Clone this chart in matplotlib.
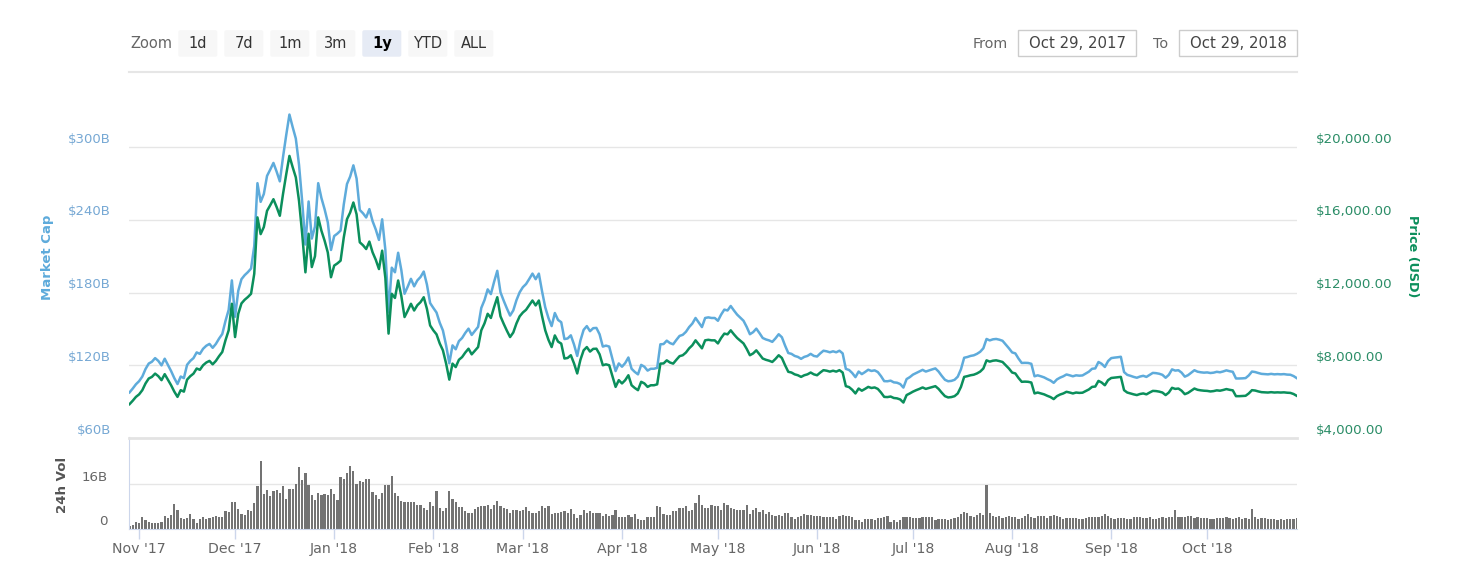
import pandas as pd
import matplotlib
matplotlib.use("Agg")
import matplotlib.pyplot as plt
import matplotlib.dates as mdates
import matplotlib.transforms as mtransforms
from matplotlib.patches import FancyBboxPatch, Rectangle
from matplotlib.lines import Line2D

plt.rcParams['font.family'] = ['DejaVu Sans']

# daily series, first day 2017-10-29
start = '2017-10-29'

# price (USD)
price = [
    5860, 6050, 6260, 6400, 6630, 7000, 7270, 7360, 7540, 7400,
    7180, 7510, 7200, 6900, 6550, 6260, 6630, 6550, 7210, 7400,
    7540, 7820, 7750, 8000, 8150, 8240, 8050, 8240, 8500, 8730,
    9370, 9920, 11380, 9550, 10830, 11400, 11600, 11750, 11930, 13030,
    16130, 15210, 15600, 16490, 16800, 17130, 16700, 16220, 17420, 18500,
    19510, 18900, 18330, 17040, 15210, 13110, 15230, 13400, 14000, 16130,
    15400, 14850, 14200, 12840, 13480, 13600, 13750, 15030, 16030, 16400,
    16950, 16300, 14760, 14600, 14390, 14800, 14210, 13800, 13290, 14300,
    12800, 9740, 11930, 11700, 12660, 11800, 10650, 11000, 11380, 11010,
    11300, 11470, 11740, 11100, 10190, 9920, 9700, 9200, 8820, 8090,
    7210, 8090, 7900, 8300, 8450, 8700, 8910, 8600, 8800, 9000,
    9920, 10300, 10830, 10600, 11200, 11740, 10690, 10280, 9900, 9550,
    9800, 10300, 10690, 10900, 11050, 11300, 11560, 11290, 11560, 10700,
    9920, 9400, 9000, 9640, 9300, 9190, 8370, 8400, 8550, 8100,
    7550, 8300, 8820, 9000, 8750, 8900, 8910, 8600, 8000, 8050,
    8000, 7400, 6810, 7180, 7000, 7180, 7450, 6900, 6750, 6630,
    7090, 7000, 6810, 6900, 6900, 6950, 8090, 8100, 8270, 8150,
    8090, 8300, 8500, 8550, 8700, 8930, 9100, 9370, 9150, 8930,
    9370, 9400, 9370, 9370, 9200, 9500, 9740, 9700, 9920, 9700,
    9500, 9350, 9200, 8900, 8550, 8650, 8820, 8600, 8370, 8300,
    8250, 8180, 8350, 8550, 8400, 8000, 7640, 7600, 7500, 7450,
    7360, 7450, 7500, 7600, 7500, 7450, 7600, 7730, 7700, 7650,
    7700, 7650, 7730, 7600, 6850, 6800, 6650, 6450, 6720, 6600,
    6700, 6810, 6750, 6780, 6700, 6500, 6260, 6250, 6280, 6200,
    6180, 6120, 5950, 6360, 6450, 6550, 6630, 6700, 6780, 6700,
    6750, 6800, 6850, 6700, 6490, 6300, 6230, 6250, 6300, 6450,
    6810, 7360, 7400, 7450, 7480, 7550, 7650, 7820, 8270, 8200,
    8250, 8270, 8230, 8180, 8000, 7820, 7600, 7550, 7300, 7090,
    7100, 7090, 7050, 6450, 6500, 6450, 6400, 6320, 6250, 6140,
    6300, 6390, 6450, 6540, 6500, 6450, 6500, 6480, 6490, 6580,
    6670, 6810, 6830, 7140, 7050, 6900, 7180, 7300, 7320, 7340,
    7360, 6630, 6500, 6450, 6400, 6360, 6420, 6450, 6400, 6500,
    6590, 6580, 6550, 6500, 6360, 6500, 6760, 6700, 6720, 6600,
    6410, 6480, 6600, 6720, 6650, 6620, 6600, 6590, 6560, 6580,
    6620, 6600, 6640, 6690, 6650, 6620, 6300, 6300, 6310, 6320,
    6450, 6630, 6610, 6560, 6520, 6510, 6500, 6520, 6500, 6510,
    6500, 6510, 6490, 6480, 6420, 6320,
]

# market cap (billion USD)
market_cap = [
    97.6, 100.8, 104.3, 106.9, 110.7, 116.9, 121.4, 122.9, 125.9, 123.6,
    119.9, 125.4, 120.2, 115.2, 109.4, 104.5, 110.7, 109.4, 120.4, 123.6,
    125.9, 130.6, 129.4, 133.6, 136.1, 137.6, 134.4, 137.6, 142.0, 145.8,
    156.5, 165.7, 190.0, 160.0, 181.4, 191.0, 194.3, 196.8, 199.8, 218.3,
    270.2, 254.8, 261.3, 276.2, 281.4, 286.9, 279.7, 271.7, 291.8, 309.9,
    326.8, 316.6, 307.0, 285.4, 254.8, 219.6, 255.1, 224.5, 234.5, 270.2,
    258.0, 248.7, 237.9, 215.1, 226.6, 228.6, 231.1, 252.7, 269.5, 275.7,
    284.9, 274.0, 248.1, 245.4, 241.9, 248.8, 238.9, 232.0, 223.4, 240.4,
    215.2, 163.7, 200.5, 196.7, 212.8, 198.4, 179.0, 184.9, 191.3, 185.1,
    190.0, 192.8, 197.3, 186.6, 171.3, 167.3, 163.5, 155.1, 148.7, 136.4,
    121.6, 136.4, 133.2, 139.9, 142.5, 146.7, 150.2, 145.0, 148.4, 151.7,
    167.3, 173.7, 182.6, 178.7, 188.8, 197.9, 180.2, 173.3, 166.9, 161.0,
    165.2, 173.7, 180.2, 184.4, 187.0, 191.2, 195.6, 191.0, 195.6, 181.0,
    167.8, 159.0, 152.3, 163.1, 157.4, 155.5, 141.6, 142.1, 144.7, 137.1,
    127.7, 140.4, 149.2, 152.3, 148.1, 150.6, 150.8, 145.5, 135.4, 136.2,
    135.4, 125.2, 115.2, 121.5, 118.8, 121.8, 126.4, 117.1, 114.5, 112.5,
    120.3, 118.8, 115.6, 117.1, 117.1, 117.9, 137.3, 137.5, 140.3, 138.3,
    137.3, 140.9, 144.2, 145.1, 147.6, 151.5, 154.4, 159.0, 155.3, 151.5,
    159.0, 159.5, 159.0, 159.0, 156.7, 161.8, 165.9, 165.2, 168.9, 165.2,
    161.8, 159.2, 156.7, 151.6, 145.6, 147.3, 150.2, 146.5, 142.5, 141.3,
    140.5, 139.3, 142.2, 145.6, 143.1, 136.2, 130.1, 129.4, 127.7, 126.9,
    125.3, 126.9, 127.7, 129.4, 127.7, 127.2, 129.8, 132.0, 131.5, 130.7,
    131.5, 130.7, 132.0, 129.8, 117.0, 116.1, 113.6, 110.2, 114.8, 112.7,
    114.4, 116.3, 115.3, 115.8, 114.4, 111.0, 106.9, 106.8, 107.3, 105.9,
    105.6, 104.5, 101.6, 108.6, 110.2, 112.3, 113.6, 114.8, 116.2, 114.8,
    115.7, 116.6, 117.4, 114.8, 111.2, 108.0, 106.8, 107.1, 108.0, 110.6,
    116.7, 126.2, 126.8, 127.7, 128.2, 129.4, 131.1, 134.0, 141.7, 140.5,
    141.4, 141.7, 141.1, 140.2, 137.1, 134.0, 130.6, 129.8, 125.5, 121.9,
    122.0, 121.9, 121.2, 110.9, 111.7, 110.9, 110.0, 108.6, 107.4, 105.5,
    108.3, 109.8, 110.9, 112.4, 111.7, 110.9, 111.7, 111.4, 111.6, 113.1,
    114.7, 117.1, 117.4, 122.7, 121.2, 118.6, 123.4, 125.9, 126.3, 126.6,
    127.0, 114.4, 112.1, 111.3, 110.4, 109.7, 110.7, 111.3, 110.4, 112.1,
    113.7, 113.5, 113.0, 112.1, 109.7, 112.1, 116.6, 115.6, 115.9, 113.9,
    110.6, 111.8, 113.9, 115.9, 114.7, 114.2, 113.9, 114.1, 113.6, 113.9,
    114.6, 114.2, 114.9, 115.8, 115.1, 114.6, 109.1, 109.1, 109.2, 109.4,
    111.6, 114.8, 114.4, 113.6, 112.9, 112.7, 112.5, 112.9, 112.5, 112.7,
    112.5, 112.7, 112.3, 112.2, 111.1, 109.4,
]

# 24h volume (billion USD)
volume = [
    1.0, 1.2, 2.2, 2.1, 4.0, 3.0, 2.2, 1.8, 2.0, 2.0,
    2.3, 4.5, 3.6, 4.8, 8.8, 6.6, 3.8, 3.4, 3.8, 5.2,
    3.4, 2.1, 3.3, 4.0, 3.3, 3.6, 4.0, 4.5, 4.2, 4.0,
    6.3, 5.8, 9.5, 9.7, 7.0, 5.2, 4.7, 6.5, 6.3, 9.3,
    15.3, 24.3, 12.4, 13.8, 11.7, 13.5, 13.8, 12.9, 15.3, 10.7,
    14.3, 14.1, 16.0, 22.0, 17.4, 19.8, 15.6, 12.0, 10.2, 12.6,
    11.9, 12.4, 12.0, 14.3, 12.4, 10.2, 18.4, 17.8, 20.1, 22.5,
    20.6, 16.0, 17.0, 16.6, 17.7, 17.9, 13.1, 12.0, 10.6, 12.9,
    15.6, 15.6, 18.9, 12.6, 11.7, 9.9, 9.5, 9.7, 9.7, 9.5,
    8.3, 8.5, 7.3, 6.6, 9.4, 8.1, 13.5, 7.5, 6.3, 7.5,
    13.5, 10.6, 9.7, 7.6, 7.6, 6.4, 5.4, 5.4, 7.1, 7.6,
    8.1, 8.1, 8.4, 7.0, 8.3, 9.9, 8.1, 7.5, 6.9, 5.4,
    6.6, 6.6, 6.4, 6.6, 7.6, 6.3, 5.4, 5.7, 6.3, 8.1,
    7.2, 8.1, 5.2, 5.5, 5.7, 5.8, 6.4, 5.4, 7.1, 5.2,
    3.6, 4.7, 6.6, 5.7, 6.3, 5.4, 5.4, 5.4, 4.5, 5.2,
    4.5, 4.9, 6.6, 4.2, 4.2, 4.0, 4.8, 4.0, 5.3, 3.5,
    3.2, 3.2, 4.2, 4.0, 4.0, 8.1, 7.6, 5.2, 4.7, 4.7,
    6.3, 6.3, 7.2, 7.2, 8.1, 6.4, 6.6, 9.0, 12.0, 8.3,
    7.5, 7.5, 8.4, 8.1, 8.1, 6.6, 9.3, 8.3, 7.2, 7.1,
    6.6, 6.6, 6.6, 8.3, 5.2, 6.6, 7.2, 6.0, 6.6, 5.2,
    5.9, 4.8, 4.5, 4.7, 4.5, 5.7, 5.7, 4.0, 3.4, 4.0,
    4.5, 5.2, 4.7, 4.7, 4.5, 4.5, 4.5, 4.2, 4.0, 4.0,
    4.2, 3.5, 4.5, 4.7, 4.5, 4.5, 4.0, 3.2, 3.0, 2.5,
    3.4, 3.4, 3.4, 3.0, 3.7, 3.7, 4.0, 4.5, 2.5, 3.0,
    2.5, 3.2, 4.0, 4.0, 4.0, 3.8, 3.6,
    3.6, 4.1, 4.0, 4.1, 4.2, 3.2, 3.5, 3.3, 3.4, 3.1, 3.3, 3.6,
    4.3, 5.3, 5.9, 5.5, 4.6, 4.2, 5.0, 5.6, 4.8,
    15.6,
    5.5, 4.6, 4.0, 4.4, 3.8, 4.2, 4.4, 4.2, 4.0, 3.4,
    3.7, 4.6, 5.3, 4.0, 3.7, 4.4, 4.4, 4.4, 3.6, 4.6,
    4.8, 4.6, 4.3, 3.5, 3.8, 3.6, 3.9, 3.6, 3.3, 3.4,
    3.6, 4.0, 4.2, 4.2, 4.3, 4.6, 5.3, 4.4, 3.9, 3.5, 3.8, 3.6,
    3.7, 3.3, 3.5, 4.0, 4.1, 4.2, 3.6, 3.8, 4.2, 3.5, 3.4, 3.9, 4.1, 3.8, 4.0, 4.2,
    6.7,
    4.0, 4.1, 4.2, 4.5, 4.6, 3.8, 4.0, 3.8, 3.8, 3.6,
    3.5, 3.5, 3.6, 3.8, 3.7, 4.0, 3.9, 3.5, 3.7, 4.2,
    3.4, 3.6, 3.3,
    7.0,
    4.0, 3.5, 3.6, 3.6, 3.4, 3.3, 3.3, 3.2, 3.4, 3.1, 3.3, 3.4, 3.5, 3.8,
]

cap_ticks = [60, 120, 180, 240, 300]
price_ticks = [4000, 8000, 12000, 16000, 20000]
vol_ticks = [0, 16]
zoom_buttons = ['1d', '7d', '1m', '3m', '1y', 'YTD', 'ALL']
selected = '1y'
range_from, range_to = 'Oct 29, 2017', 'Oct 29, 2018'

BLUE = '#5eabdb'
GREEN = '#0b8f5c'
GRID = '#e6e6e6'
AXIS = '#ccd6eb'

W, H = 1463, 575
fig = plt.figure(figsize=(W / 100, H / 100), dpi=100)


def rect(l, t, r, b):
    return [l / W, 1 - b / H, (r - l) / W, (b - t) / H]


def px(x, y):
    # pixel (from top-left) -> figure fraction
    return x / W, 1 - y / H


d_price = pd.date_range(start, periods=len(price), freq='D')
d_cap = pd.date_range(start, periods=len(market_cap), freq='D')
d_vol = pd.date_range(start, periods=len(volume), freq='D')
x0 = pd.Timestamp(start) - pd.Timedelta(hours=4)
x1 = pd.Timestamp(start) + pd.Timedelta(days=365, hours=2)

# main pane
ax = fig.add_axes(rect(129, 72, 1297, 438))
axp = ax.twinx()
ax.plot(d_cap, market_cap, color=BLUE, lw=1.8, solid_joinstyle='round')
axp.plot(d_price, price, color=GREEN, lw=1.8, solid_joinstyle='round')
ax.set_xlim(x0, x1)
ax.set_ylim(60, 361.9)
axp.set_ylim(4000, 24124)
ax.set_yticks(cap_ticks)
ax.yaxis.grid(True, color=GRID, lw=1)
ax.set_axisbelow(True)
ax.tick_params(axis='both', length=0, labelleft=False, labelbottom=False)
axp.set_yticks([])
for a in (ax, axp):
    for s in a.spines.values():
        s.set_visible(False)

up8 = mtransforms.ScaledTranslation(0, 8 / 100, fig.dpi_scale_trans)
tl = mtransforms.blended_transform_factory(ax.transAxes, ax.transData) + up8
for v in cap_ticks:
    ax.text(-18 / 1168, v, f'${v}B', transform=tl, ha='right', va='center',
            fontsize=9.5, color='#76a8d4')
tr = mtransforms.blended_transform_factory(axp.transAxes, axp.transData) + up8
for v in price_ticks:
    axp.text(1 + 19 / 1168, v, f'${v:,.2f}', transform=tr, ha='left', va='center',
             fontsize=9.6, color='#2b8d67')

# volume pane
axv = fig.add_axes(rect(129, 437, 1297, 528.5))
axv.bar(d_vol, volume, width=0.7, color='#737373', align='center')
axv.set_xlim(x0, x1)
axv.set_ylim(0, 32.9)
axv.set_yticks([16])
axv.yaxis.grid(True, color=GRID, lw=1)
axv.set_axisbelow(True)
axv.tick_params(axis='y', length=0, labelleft=False)
for k in ('top', 'right'):
    axv.spines[k].set_visible(False)
axv.spines['left'].set_color(AXIS)
axv.spines['bottom'].set_color(AXIS)
axv.xaxis.set_major_locator(mdates.MonthLocator())
axv.xaxis.set_major_formatter(mdates.DateFormatter("%b '%y"))
axv.tick_params(axis='x', length=7.5, width=1, color=AXIS, labelcolor='#666666',
                labelsize=10.2, pad=2.5)
up7 = mtransforms.ScaledTranslation(0, 7 / 100, fig.dpi_scale_trans)
tv = mtransforms.blended_transform_factory(axv.transAxes, axv.transData) + up7
for v in vol_ticks:
    axv.text(-21 / 1168, v, f'{v}B' if v else '0', transform=tv, ha='right',
             va='center', fontsize=9.6, color='#666666')

# axis titles
fig.text(*px(47, 257), 'Market Cap', rotation=90, ha='center', va='center',
         fontsize=9.5, fontweight='bold', color=BLUE)
fig.text(*px(1413, 256), 'Price (USD)', rotation=270, ha='center', va='center',
         fontsize=9.2, fontweight='bold', color=GREEN)
fig.text(*px(62, 485), '24h Vol', rotation=90, ha='center', va='center',
         fontsize=9.6, fontweight='bold', color='#555555')

# separators
fig.add_artist(Line2D([129 / W, 1297 / W], [1 - 437.5 / H] * 2, color='#e3e3e3', lw=2))
fig.add_artist(Line2D([129 / W, 1297 / W], [1 - 72 / H] * 2, color=GRID, lw=1.5))

# range selector
fig.text(*px(130, 44), 'Zoom', ha='left', va='center', fontsize=10.5, color='#666666')
for i, b in enumerate(zoom_buttons):
    left = 178.3 + 46 * i
    on = b == selected
    fig.add_artist(FancyBboxPatch((left / 100, (H - 56.7) / 100), 0.39, 0.265,
                                  boxstyle='round,pad=0,rounding_size=0.02',
                                  transform=fig.dpi_scale_trans,
                                  fc='#e6ebf5' if on else '#f7f7f7', ec='none'))
    fig.text(*px(left + 19.5, 43.5), b, ha='center', va='center', fontsize=10.5,
             color='#000000' if on else '#333333',
             fontweight='bold' if on else 'normal')

fig.text(*px(1008, 44), 'From', ha='right', va='center', fontsize=10.4, color='#666666')
fig.text(*px(1168.5, 44), 'To', ha='right', va='center', fontsize=10.4, color='#666666')
for (l, r), s in zip([(1018.3, 1136), (1179.3, 1297.3)], [range_from, range_to]):
    fig.add_artist(Rectangle((l / 100, (H - 56) / 100), (r - l) / 100, 0.26,
                             transform=fig.dpi_scale_trans, fc='white',
                             ec='#cccccc', lw=1))
    fig.text(*px((l + r) / 2, 43.5), s, ha='center', va='center', fontsize=10.7,
             color='#444444')

fig.savefig('out.png', dpi=100)
